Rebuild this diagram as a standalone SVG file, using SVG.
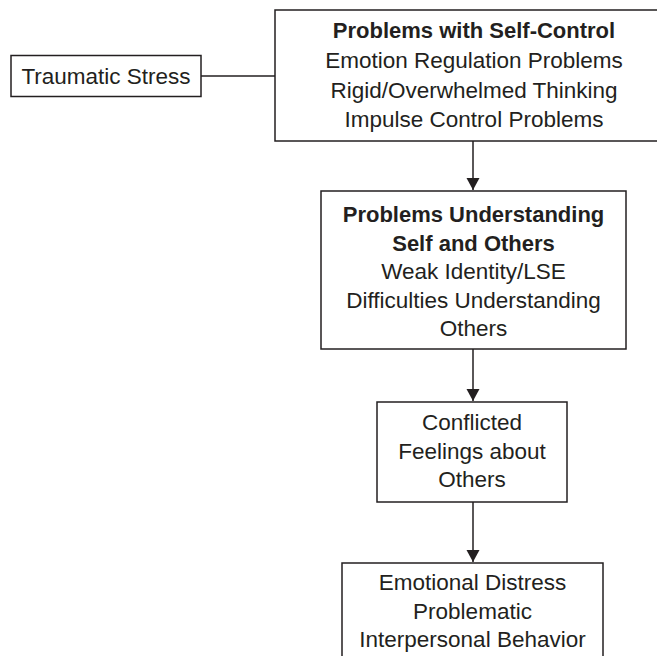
<svg xmlns="http://www.w3.org/2000/svg" width="657" height="656" viewBox="0 0 657 656">
  <style>
    .box { fill: #ffffff; stroke: #231f20; stroke-width: 1.5; }
    .edge { fill: none; stroke: #231f20; stroke-width: 1.5; }
    .t { font-family: "Liberation Sans", Arial, sans-serif; font-size: 22.5px; fill: #231f20; text-anchor: middle; }
    .b { font-weight: bold; font-size: 22px; }
  </style>
  <defs>
    <marker id="arrow" markerUnits="userSpaceOnUse" markerWidth="14" markerHeight="14" refX="12" refY="6.5" orient="auto">
      <path d="M0,0 L12,6.5 L0,13 Z" fill="#231f20"/>
    </marker>
  </defs>

  <!-- connectors -->
  <g id="connectors">
    <line class="edge" x1="201" y1="76" x2="275" y2="76" stroke-width="2"/>
    <line class="edge" x1="473" y1="141" x2="473" y2="190" marker-end="url(#arrow)"/>
    <line class="edge" x1="473" y1="349" x2="473" y2="401" marker-end="url(#arrow)"/>
    <line class="edge" x1="473" y1="502" x2="473" y2="562" marker-end="url(#arrow)"/>
  </g>

  <g id="traumatic-stress">
    <rect class="box" x="11" y="55.5" width="190" height="41"/>
    <text class="t" x="106" y="84">Traumatic Stress</text>
  </g>

  <g id="self-control">
    <rect class="box" x="275" y="10" width="400" height="131"/>
    <text class="t b" x="474" y="38">Problems with Self-Control</text>
    <text class="t" x="474" y="68">Emotion Regulation Problems</text>
    <text class="t" x="474" y="98">Rigid/Overwhelmed Thinking</text>
    <text class="t" x="474" y="127">Impulse Control Problems</text>
  </g>

  <g id="understanding">
    <rect class="box" x="321" y="191" width="305" height="158"/>
    <text class="t b" x="473.5" y="222">Problems Understanding</text>
    <text class="t b" x="473.5" y="250.5">Self and Others</text>
    <text class="t" x="473.5" y="279">Weak Identity/LSE</text>
    <text class="t" x="473.5" y="307.5">Difficulties Understanding</text>
    <text class="t" x="473.5" y="336">Others</text>
  </g>

  <g id="conflicted-feelings">
    <rect class="box" x="377" y="402" width="190" height="100"/>
    <text class="t" x="472" y="430">Conflicted</text>
    <text class="t" x="472" y="458.5">Feelings about</text>
    <text class="t" x="472" y="487">Others</text>
  </g>

  <g id="distress-behavior">
    <rect class="box" x="342" y="563" width="261" height="100"/>
    <text class="t" x="472.5" y="590">Emotional Distress</text>
    <text class="t" x="472.5" y="618.5">Problematic</text>
    <text class="t" x="472.5" y="647">Interpersonal Behavior</text>
  </g>
</svg>
